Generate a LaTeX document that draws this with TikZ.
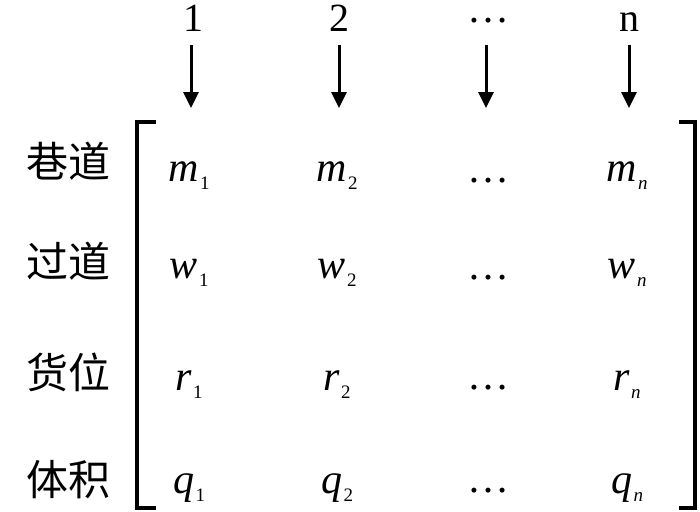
\documentclass[tikz,border=0pt]{standalone}
\usepackage{fontspec}
\setmainfont{Liberation Serif}
\newfontfamily\cjk{Noto Sans CJK SC}
\usetikzlibrary{arrows.meta}
\newcommand\mysub[2]{\textit{#1}\kern1.5pt\raisebox{-8pt}{\fontsize{19}{19}\selectfont #2}}
\tikzset{
  hd/.style={anchor=base, inner sep=0pt, font=\fontsize{40}{40}\selectfont},
  ent/.style={anchor=base, inner sep=0pt, font=\fontsize{42}{42}\selectfont},
  dts/.style={anchor=base, inner sep=0pt, font=\fontsize{42}{42}\selectfont},
  lab/.style={anchor=center, inner sep=0pt, font=\fontsize{42}{42}\selectfont\cjk},
  arr/.style={line width=3pt, -{Triangle[width=15pt,length=16pt]}},
  brk/.style={line width=3.5pt, line cap=butt, line join=miter}
}
\begin{document}
\begin{tikzpicture}[x=1pt,y=-1pt]
\useasboundingbox (0,0) rectangle (700,511);
% header
\node[hd] (h1) at (193,31) {1};
\node[hd] (h2) at (339,31) {2};
\node[dts] (h3) at (488,23) {…};
\node[hd] (h4) at (629,31) {n};
\foreach \i/\x in {1/191,2/339,3/486,4/629}{
  \coordinate (s\i) at (\x,45);
  \coordinate (t\i) at (\x,108);
  \draw[arr] (s\i) -- (t\i);
}
% brackets
\coordinate (lt) at (156,122);
\coordinate (lb) at (156,508);
\coordinate (rt) at (679,122);
\coordinate (rb) at (679,508);
\draw[brk] (lt) -- (137,122) -- (137,508) -- (lb);
\draw[brk] (rt) -- (695,122) -- (695,508) -- (rb);
% row labels
\node[lab] (l1) at (68,161) {巷道};
\node[lab] (l2) at (68,261) {过道};
\node[lab] (l3) at (68,372) {货位};
\node[lab] (l4) at (68,480) {体积};
% entries
\node[ent] (m1) at (189,181) {\mysub{m}{1}};
\node[ent] (m2) at (337,181) {\mysub{m}{2}};
\node[dts] (m3) at (488,182) {…};
\node[ent] (m4) at (627,181) {\mysub{m}{\textit{n}}};
\node[ent] (w1) at (189,278) {\mysub{w}{1}};
\node[ent] (w2) at (337,278) {\mysub{w}{2}};
\node[dts] (w3) at (488,279) {…};
\node[ent] (w4) at (627,278) {\mysub{w}{\textit{n}}};
\node[ent] (r1) at (189,390) {\mysub{r}{1}};
\node[ent] (r2) at (337,390) {\mysub{r}{2}};
\node[dts] (r3) at (488,389) {…};
\node[ent] (r4) at (627,390) {\mysub{r}{\textit{n}}};
\node[ent] (q1) at (189,493) {\mysub{q}{1}};
\node[ent] (q2) at (337,493) {\mysub{q}{2}};
\node[dts] (q3) at (488,492) {…};
\node[ent] (q4) at (627,493) {\mysub{q}{\textit{n}}};
\end{tikzpicture}
\end{document}
